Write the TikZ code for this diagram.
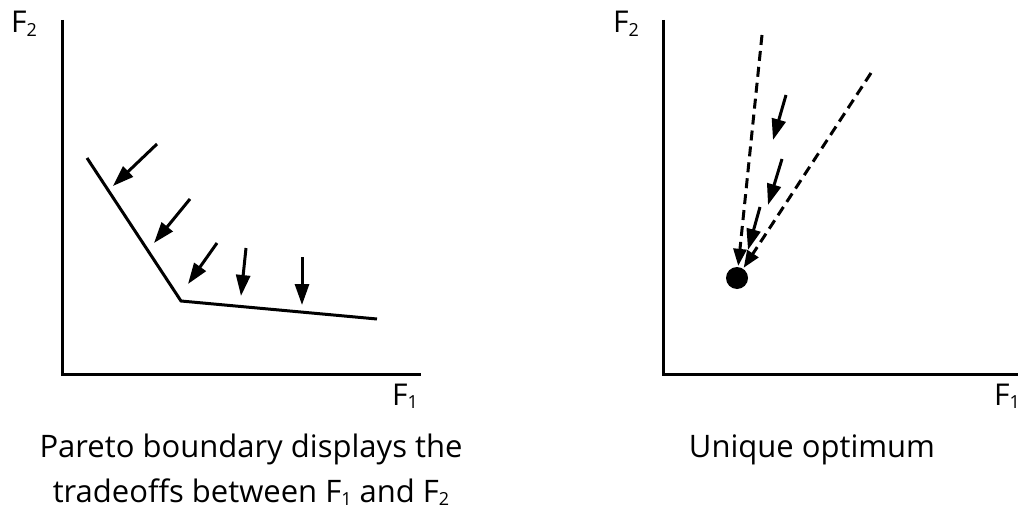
\documentclass[tikz,border=0pt]{standalone}
\usepackage{fontspec}
\setmainfont{Open Sans}
\usetikzlibrary{arrows.meta}
\newcommand{\mysub}[1]{\raisebox{-0.2ex}{\fontsize{18}{18}\selectfont #1}}
\begin{document}
\begin{tikzpicture}[x=1pt,y=-1pt,
  axis/.style={line width=3pt},
  bound/.style={line width=3pt, line join=miter},
  arr/.style={-{Triangle[length=21pt,width=14pt]}, line width=3pt},
  darr/.style={-{Triangle[length=17pt,width=13pt]}, line width=3pt, dash pattern=on 10pt off 6pt},
  lbl/.style={font=\fontsize{30}{30}\selectfont, inner sep=0pt, anchor=base west},
  capt/.style={font=\fontsize{31}{31}\selectfont, inner sep=0pt, anchor=base}]
\useasboundingbox (0,0) rectangle (1022,508);
% ---------- left panel ----------
\coordinate (lo) at (62,374);
\coordinate (ltop) at (62,20);
\coordinate (lright) at (421,374);
\draw[axis] (ltop) -- (lo) -- (lright);
\node[lbl] (lf2) at (11,33) {F\mysub{2}};
\node[lbl] (lf1) at (392,405) {F\mysub{1}};
\coordinate (b1) at (87,158);
\coordinate (b2) at (181,301);
\coordinate (b3) at (377,319);
\draw[bound] (b1) -- (b2) -- (b3);
\coordinate (t1) at (157,144); \coordinate (h1) at (113,186);
\coordinate (t2) at (190,199); \coordinate (h2) at (154,243);
\coordinate (t3) at (217,243); \coordinate (h3) at (188,284);
\coordinate (t4) at (246,248); \coordinate (h4) at (241,296);
\coordinate (t5) at (302,257); \coordinate (h5) at (302,305);
\foreach \i in {1,...,5} \draw[arr] (t\i) -- (h\i);
\node[capt] (c1) at (251,457) {Pareto boundary displays the};
\node[capt] (c2) at (251,502) {tradeoffs between F\mysub{1} and F\mysub{2}};
% ---------- right panel ----------
\coordinate (ro) at (663,374);
\coordinate (rtop) at (663,20);
\coordinate (rright) at (1018,374);
\draw[axis] (rtop) -- (ro) -- (rright);
\node[lbl] (rf2) at (613,33) {F\mysub{2}};
\node[lbl] (rf1) at (994,405) {F\mysub{1}};
\node[circle, fill=black, inner sep=0pt, minimum size=22pt] (opt) at (737,278) {};
\coordinate (da) at (762,35);
\coordinate (db) at (871,73);
\draw[darr, shorten >=1pt] (da) -- (opt);
\draw[darr, shorten >=1pt] (db) -- (opt);
\coordinate (u1) at (786,95); \coordinate (v1) at (773,140);
\coordinate (u2) at (782,159); \coordinate (v2) at (768,205);
\coordinate (u3) at (760,207); \coordinate (v3) at (748,250);
\foreach \i in {1,2,3} \draw[arr] (u\i) -- (v\i);
\node[capt] (c3) at (812,457) {Unique optimum};
\end{tikzpicture}
\end{document}
